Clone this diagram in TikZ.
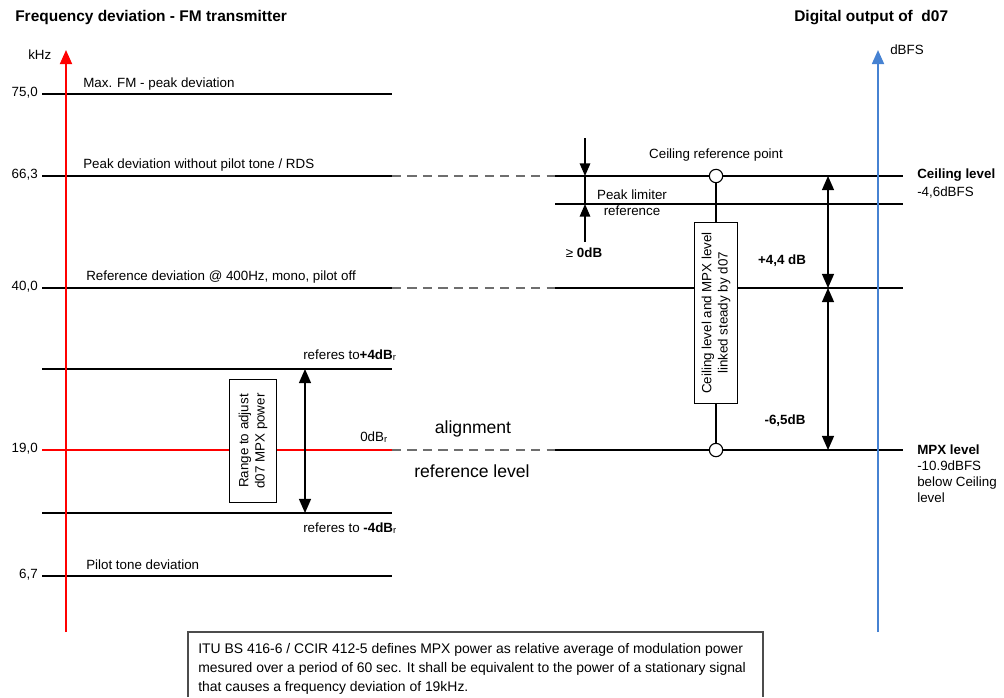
\documentclass[tikz,border=0pt]{standalone}
\usepackage{fontspec}
\setmainfont{Liberation Sans}
\usetikzlibrary{arrows.meta, positioning}
\definecolor{axisblue}{RGB}{70,130,210}
\definecolor{dashgray}{RGB}{110,110,110}

\begin{document}
\begin{tikzpicture}[
    x=0.025cm, y=-0.025cm,
    font=\fontsize{9.5}{11.5}\selectfont,
    lbl/.style={inner sep=0pt, anchor=west},
    tick/.style={inner sep=0pt, anchor=east},
    bold/.style={inner sep=0pt, font=\fontsize{9.5}{11.5}\selectfont\bfseries},
    title/.style={
        inner sep=0pt,
        anchor=west,
        font=\fontsize{11}{13}\selectfont\bfseries
    },
    level/.style={line width=1pt, draw=black},
    dashext/.style={
        line width=1pt,
        draw=dashgray,
        dash pattern=on 6.5pt off 4.5pt
    },
    axis/.style={line width=1.4pt, -{Triangle[length=10pt, width=8.5pt]}},
    tip/.style={line width=1pt, -{Triangle[length=9pt, width=7.5pt]}},
    dim/.style={
        line width=1pt,
        {Triangle[length=10pt, width=8.5pt]}-{Triangle[length=10pt, width=8.5pt]}
    },
    vbox/.style={
        draw,
        line width=0.7pt,
        fill=white,
        rotate=90,
        align=center,
        inner sep=2pt
    },
    refpt/.style={
        circle,
        draw,
        line width=0.8pt,
        fill=white,
        minimum size=9.5pt,
        inner sep=0pt
    }
]

\useasboundingbox (0,0) rectangle (1004,697);

% Titles
\node (titleL) [title] at (15,18) {Frequency deviation - FM transmitter};
\node (titleR) [title] at (794,18) {Digital output of \ d07};

% Axes
\coordinate (khzlo) at (66,632);
\coordinate (khzhi) at (66,50);
\coordinate (dbfslo) at (878,632);
\coordinate (dbfshi) at (878,50);
\node (khz) [lbl] at (28,55) {kHz};
\node (dbfs) [lbl] at (890,50) {dBFS};

% Levels, FM side
\draw [level] (42,94) -- (392,94);
\draw [level] (42,176) -- (392,176);
\draw [level] (42,288) -- (392,288);
\draw [level] (42,369) -- (392,369);
\draw [level, draw=red] (42,450) -- (392,450);
\draw [level] (42,513) -- (392,513);
\draw [level] (42,576) -- (392,576);

\node (t75) [tick] at (38,93) {75,0};
\node (t66) [tick] at (38,175) {66,3};
\node (t40) [tick] at (38,287) {40,0};
\node (t19) [tick] at (38,449) {19,0};
\node (t6) [tick] at (38,575) {6,7};

\node (maxdev) [lbl] at (83,84) {Max. FM - peak deviation};
\node (peakdev) [lbl] at (83,165) {Peak deviation without pilot tone / RDS};
\node (refdev) [lbl] at (86,277) {Reference deviation @ 400Hz, mono, pilot off};
\node (pilotdev) [lbl] at (86,565) {Pilot tone deviation};

% Dashed links
\draw [dashext] (392,176) -- (555,176);
\draw [dashext] (392,288) -- (555,288);
\draw [dashext] (392,450) -- (555,450);

% Levels, d07 side
\draw [level] (555,176) -- (903,176);
\draw [level] (555,204) -- (903,204);
\draw [level] (555,288) -- (903,288);
\draw [level] (555,450) -- (903,450);

\draw [axis, red] (khzlo) -- (khzhi);
\draw [axis, axisblue] (dbfslo) -- (dbfshi);

% MPX range
\node (rangebox) [vbox, minimum width=87pt, minimum height=33pt] at (253,441) {Range to adjust\\d07 MPX power};
\coordinate (plus4) at (305,369);
\coordinate (minus4) at (305,513);
\draw [dim] (plus4) -- (minus4);
\node (plus4lbl) [lbl] at (303,355) {referes to\textbf{+4dB}\textsubscript{r}};
\node (zerolbl) [lbl] at (360,437) {0dB\textsubscript{r}};
\node (minus4lbl) [lbl] at (303,528) {referes to \textbf{-4dB}\textsubscript{r}};
\node (align) [font=\fontsize{12.5}{14}\selectfont, inner sep=0pt] at (473,429) {alignment};
\node (reflvl) [font=\fontsize{12.5}{14}\selectfont, inner sep=0pt] at (472,471) {reference level};

% Peak limiter
\coordinate (pltop) at (585,138);
\coordinate (plceil) at (585,176);
\coordinate (pllim) at (585,204);
\coordinate (plbot) at (585,242);
\draw [tip] (pltop) -- (plceil);
\draw [line width=1pt] (plceil) -- (pllim);
\draw [tip] (plbot) -- (pllim);
\node (pllbl) [inner sep=0pt, align=center] at (632,203) {Peak limiter\\reference};
\node (geq) [inner sep=0pt] at (584,253) {≥ \textbf{0dB}};

% Ceiling and MPX points
\node (ceilpt) [refpt] at (716,176) {};
\node (mpxpt) [refpt] at (716,450) {};
\node (ceilptlbl) [inner sep=0pt] at (716,155) {Ceiling reference point};
\node (linkbox) [vbox, minimum width=129pt, minimum height=31pt] at (716,313) {Ceiling level and MPX level\\linked steady by d07};
\draw [line width=1pt] (ceilpt) -- (linkbox);
\draw [line width=1pt] (linkbox) -- (mpxpt);

\coordinate (dceil) at (828,176);
\coordinate (dref) at (828,288);
\coordinate (dmpx) at (828,450);
\draw [dim] (dceil) -- (dref);
\draw [dim] (dref) -- (dmpx);
\node (up44) [bold] at (782,261) {+4,4 dB};
\node (dn65) [bold] at (785,421) {-6,5dB};

% Right labels
\node (ceillbl) [lbl, anchor=north west, align=left, font=\fontsize{9.5}{12.8}\selectfont] at (917,169) {\textbf{Ceiling level}\\-4,6dBFS};
\node (mpxlbl) [lbl, anchor=north west, align=left, font=\fontsize{9.5}{11.3}\selectfont] at (917,445) {\textbf{MPX level}\\-10.9dBFS\\below Ceiling\\level};

% Note
\draw [line width=0.8pt, draw=black!70] (188,697) |- (763,632) -- (763,697);
\node (note) [lbl, anchor=north west, align=left, font=\fontsize{9.9}{13.5}\selectfont] at (198,643) {ITU BS 416-6 / CCIR 412-5 defines MPX power as relative average of modulation power\\mesured over a period of 60 sec. It shall be equivalent to the power of a stationary signal\\that causes a frequency deviation of 19kHz.};

\end{tikzpicture}
\end{document}
